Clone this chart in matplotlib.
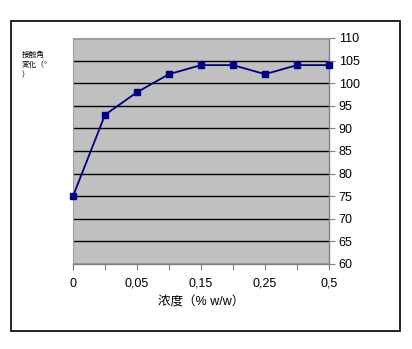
import matplotlib
matplotlib.use("Agg")
import matplotlib.pyplot as plt
from matplotlib.patches import Rectangle

plt.rcParams['font.family'] = ['Liberation Sans', 'Noto Sans CJK JP', 'DejaVu Sans']

categories = ["0", "0,025", "0,05", "0,1", "0,15", "0,2", "0,25", "0,3", "0,5"]
shown_labels = ["0", "", "0,05", "", "0,15", "", "0,25", "", "0,5"]
values = [75, 93, 98, 102, 104, 104, 102, 104, 104]
y_ticks = list(range(60, 111, 5))

W, H = 412, 349
fig = plt.figure(figsize=(W / 100, H / 100), dpi=100)
fig.patch.set_facecolor('white')

fig.patches.append(Rectangle((11 / W, 1 - 331 / H), 389 / W, 310 / H, transform=fig.transFigure,
                             fill=False, edgecolor='black', linewidth=1.2))

ax = fig.add_axes([73 / W, 1 - 264 / H, 256 / W, 226 / H])
ax.set_facecolor('#c0c0c0')
x = list(range(len(categories)))
ax.plot(x, values, color='#000080', linewidth=1.3, marker='s', markersize=4.5,
        markerfacecolor='#000080', markeredgecolor='#000080', clip_on=False, zorder=5)
ax.set_xlim(0, len(categories) - 1)
ax.set_ylim(60, 110)
ax.set_yticks(y_ticks)
ax.yaxis.tick_right()
ax.tick_params(axis='y', direction='out', length=4, color='#808080', labelsize=9, pad=3)
ax.set_xticks(x)
ax.set_xticklabels(shown_labels)
ax.tick_params(axis='x', direction='out', length=4, color='#808080', labelsize=9, pad=6)
ax.grid(axis='y', color='black', linewidth=1)
for s in ['top', 'left']:
    ax.spines[s].set_color('#a0a0a0')
    ax.spines[s].set_linewidth(0.8)
for s in ['bottom', 'right']:
    ax.spines[s].set_color('#808080')
    ax.spines[s].set_linewidth(1)
ax.set_xlabel('浓度（% w/w）', fontsize=9, labelpad=5)

fig.text(22 / W, 1 - 51 / H, '接触角\n変化（°\n）', fontsize=5.5, va='top', ha='left',
         linespacing=1.5)

fig.savefig('out.png', dpi=100)
